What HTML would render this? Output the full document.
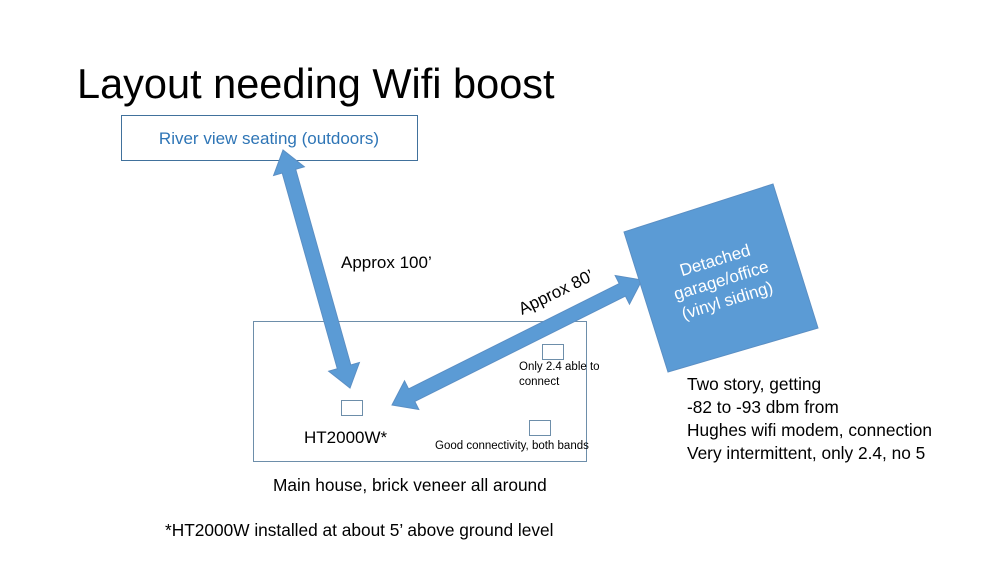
<!DOCTYPE html>
<html><head><meta charset="utf-8"><style>
html,body{margin:0;padding:0;background:#fff}
svg{display:block}
text{font-family:"Liberation Sans",sans-serif}
</style></head><body>
<svg width="999" height="562" viewBox="0 0 999 562" xmlns="http://www.w3.org/2000/svg">
<rect width="999" height="562" fill="#fff"/>
<text x="77" y="98" font-size="41.5" fill="#000">Layout needing Wifi boost</text>
<rect x="121.5" y="115.5" width="296" height="45" fill="#fff" stroke="#41719c" stroke-width="1"/>
<text x="269" y="144" font-size="17" fill="#2e75b6" text-anchor="middle">River view seating (outdoors)</text>
<rect x="253.5" y="321.5" width="333" height="140" fill="#fff" stroke="#6d8eaa" stroke-width="1"/>
<polygon points="283,150 273.57,175.5 282.23,173.06 337.31,368.74 328.65,371.18 350,388 359.43,362.5 350.77,364.94 295.69,169.26 304.35,166.82" fill="#5b9bd5" stroke="#5b8fc4" stroke-width="1"/>
<polygon points="392,405 418.82,409.47 414.8,401.43 625.46,296.09 629.48,304.13 642,280 615.18,275.53 619.2,283.57 408.54,388.91 404.52,380.87" fill="#5b9bd5" stroke="#5b8fc4" stroke-width="1"/>
<polygon points="624,232 773,184 818,328 668,372" fill="#5b9bd5" stroke="#5b8fc4" stroke-width="1"/>
<g transform="translate(721,280) rotate(-17)" fill="#fff" font-size="17" text-anchor="middle">
<text x="0" y="-15">Detached</text><text x="0" y="6">garage/office</text><text x="0" y="27">(vinyl siding)</text></g>
<text x="341" y="268" font-size="17">Approx 100’</text>
<text transform="translate(522,315) rotate(-26)" font-size="17">Approx 80’</text>
<rect x="341.5" y="400.5" width="21" height="15" fill="#fff" stroke="#6d8eaa"/>
<rect x="542.5" y="344.5" width="21" height="15" fill="#fff" stroke="#6d8eaa"/>
<rect x="529.5" y="420.5" width="21" height="15" fill="#fff" stroke="#6d8eaa"/>
<text x="304" y="443" font-size="17">HT2000W*</text>
<text x="519" y="370" font-size="11.5">Only 2.4 able to</text>
<text x="519" y="385" font-size="11.5">connect</text>
<text x="435" y="449" font-size="11.5">Good connectivity, both bands</text>
<text x="273" y="491" font-size="17.3">Main house, brick veneer all around</text>
<text x="165" y="536" font-size="17.3">*HT2000W installed at about 5’ above ground level</text>
<g font-size="17.3"><text x="687" y="390">Two story, getting</text><text x="687" y="413">-82 to -93 dbm from</text><text x="687" y="436">Hughes wifi modem, connection</text><text x="687" y="459">Very intermittent, only 2.4, no 5</text></g>
</svg>
</body></html>
